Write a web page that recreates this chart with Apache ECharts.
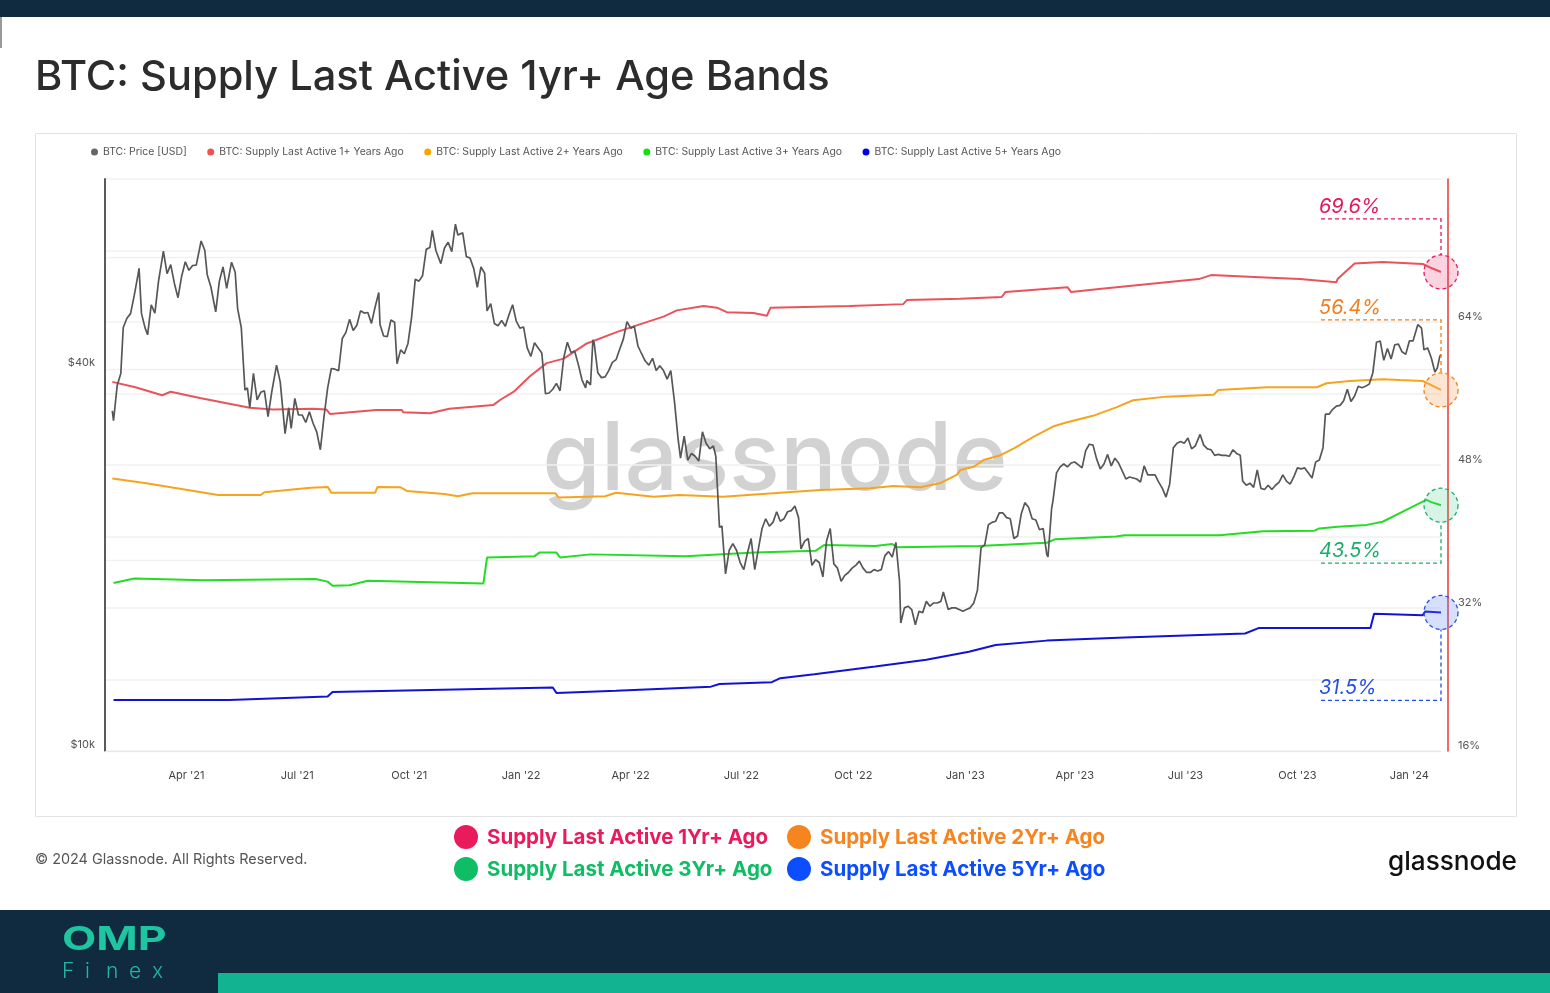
<!DOCTYPE html>
<html><head><meta charset="utf-8">
<script src="https://cdn.jsdelivr.net/npm/echarts@6/dist/echarts.min.js"></script>
<style>html,body{margin:0;padding:0;background:#fff;overflow:hidden}#c{width:1550px;height:993px}</style>
</head><body><div id="c"></div>
<script>
// ---------- DATA ----------
const seriesNames = ['BTC: Price [USD]','BTC: Supply Last Active 1+ Years Ago','BTC: Supply Last Active 2+ Years Ago','BTC: Supply Last Active 3+ Years Ago','BTC: Supply Last Active 5+ Years Ago'];
const bandNames = ['Supply Last Active 1Yr+ Ago','Supply Last Active 2Yr+ Ago','Supply Last Active 3Yr+ Ago','Supply Last Active 5Yr+ Ago'];
const endLabels = ['69.6%','56.4%','43.5%','31.5%'];
const priceTicks = [10000,20000,40000,60000];
const priceLabels = [10000,40000];

const priceData = [
['2021-01-30',34300],['2021-01-31',33100],['2021-02-03',37600],['2021-02-06',39300],['2021-02-08',46400],['2021-02-11',48000],['2021-02-14',48800],['2021-02-17',52100],['2021-02-20',56000],['2021-02-21',57500],['2021-02-23',48800],['2021-02-26',46300],['2021-02-28',45200],
['2021-03-03',50400],['2021-03-06',48900],['2021-03-09',54900],['2021-03-13',61200],['2021-03-16',56400],['2021-03-19',58300],['2021-03-22',54500],['2021-03-25',51700],['2021-03-28',55900],['2021-03-31',58900],
['2021-04-03',57100],['2021-04-06',58100],['2021-04-09',58200],['2021-04-13',63500],['2021-04-16',61400],['2021-04-18',56200],['2021-04-21',53800],['2021-04-25',49100],['2021-04-28',54900],
['2021-05-01',57800],['2021-05-04',53500],['2021-05-08',58800],['2021-05-11',56700],['2021-05-13',49700],['2021-05-16',46400],['2021-05-19',37000],['2021-05-21',37300],['2021-05-23',34700],['2021-05-26',39300],['2021-05-29',35700],
['2021-06-01',36700],['2021-06-04',36900],['2021-06-07',33600],['2021-06-10',36700],['2021-06-14',40500],['2021-06-17',38100],['2021-06-21',31600],['2021-06-24',34700],['2021-06-26',32200],['2021-06-29',35900],
['2021-07-02',33800],['2021-07-05',33800],['2021-07-08',32900],['2021-07-11',34200],['2021-07-14',32800],['2021-07-17',31800],['2021-07-20',29800],['2021-07-23',33600],['2021-07-26',37300],['2021-07-29',40000],
['2021-08-01',39900],['2021-08-04',39700],['2021-08-07',44600],['2021-08-10',45600],['2021-08-13',47800],['2021-08-16',45900],['2021-08-19',46800],['2021-08-22',49300],['2021-08-25',48900],['2021-08-28',49000],['2021-08-31',47100],
['2021-09-03',50000],['2021-09-06',52700],['2021-09-07',46900],['2021-09-10',45000],['2021-09-13',44900],['2021-09-16',47700],['2021-09-19',47300],['2021-09-21',40700],['2021-09-24',42800],['2021-09-27',42200],['2021-09-30',43800],
['2021-10-03',48200],['2021-10-06',55300],['2021-10-09',54900],['2021-10-12',56000],['2021-10-15',61600],['2021-10-18',62000],['2021-10-20',66000],['2021-10-23',61300],['2021-10-27',58500],['2021-10-30',61900],
['2021-11-02',63200],['2021-11-05',61100],['2021-11-08',67500],['2021-11-10',64900],['2021-11-14',65400],['2021-11-17',60000],['2021-11-20',59700],['2021-11-23',57500],['2021-11-26',53700],['2021-11-29',57800],
['2021-12-02',56500],['2021-12-04',49300],['2021-12-07',50600],['2021-12-10',47100],['2021-12-13',46700],['2021-12-16',47600],['2021-12-19',46600],['2021-12-22',48600],['2021-12-25',50400],['2021-12-28',47500],['2021-12-31',46300],
['2022-01-03',46500],['2022-01-06',43100],['2022-01-09',41800],['2022-01-12',43900],['2022-01-15',43100],['2022-01-18',42300],['2022-01-21',36500],['2022-01-24',36600],['2022-01-27',37100],['2022-01-30',37900],
['2022-02-02',36900],['2022-02-05',41600],['2022-02-08',44000],['2022-02-11',42400],['2022-02-14',42600],['2022-02-17',40600],['2022-02-20',38400],['2022-02-23',37300],['2022-02-24',38300],['2022-02-27',37700],
['2022-03-01',44400],['2022-03-02',43900],['2022-03-05',39400],['2022-03-08',38700],['2022-03-11',38800],['2022-03-14',39700],['2022-03-17',40900],['2022-03-20',41300],['2022-03-23',42900],['2022-03-26',44500],['2022-03-29',47400],
['2022-04-01',46300],['2022-04-04',46600],['2022-04-07',43400],['2022-04-10',42200],['2022-04-13',41100],['2022-04-16',40500],['2022-04-19',41500],['2022-04-22',39700],['2022-04-25',40400],['2022-04-28',39700],
['2022-05-01',38500],['2022-05-04',39700],['2022-05-07',35500],['2022-05-10',31000],['2022-05-12',28900],['2022-05-15',31300],['2022-05-18',28700],['2022-05-21',29400],['2022-05-24',29100],['2022-05-27',28600],['2022-05-30',31800],
['2022-06-02',30500],['2022-06-05',29900],['2022-06-08',30200],['2022-06-10',29100],['2022-06-13',22500],['2022-06-15',22600],['2022-06-18',19000],['2022-06-21',20700],['2022-06-24',21200],['2022-06-27',20700],['2022-06-30',19800],
['2022-07-03',19300],['2022-07-06',20500],['2022-07-09',21600],['2022-07-12',19300],['2022-07-15',20800],['2022-07-18',22400],['2022-07-21',23200],['2022-07-24',22600],['2022-07-27',22900],['2022-07-30',23800],
['2022-08-02',23000],['2022-08-05',23200],['2022-08-08',23800],['2022-08-11',23900],['2022-08-14',24300],['2022-08-17',23300],['2022-08-19',20800],['2022-08-22',21400],['2022-08-25',21600],['2022-08-28',19600],['2022-08-31',20000],
['2022-09-03',19800],['2022-09-06',18800],['2022-09-09',21400],['2022-09-12',22400],['2022-09-15',19700],['2022-09-18',19400],['2022-09-21',18500],['2022-09-24',18900],['2022-09-27',19100],['2022-09-30',19400],
['2022-10-03',19600],['2022-10-06',19900],['2022-10-09',19400],['2022-10-12',19100],['2022-10-15',19100],['2022-10-18',19300],['2022-10-21',19200],['2022-10-24',19300],['2022-10-27',20300],['2022-10-30',20600],
['2022-11-02',20200],['2022-11-05',21300],['2022-11-08',18500],['2022-11-09',15900],['2022-11-12',16800],['2022-11-15',16900],['2022-11-18',16700],['2022-11-21',15800],['2022-11-24',16600],['2022-11-27',16500],['2022-11-30',17200],
['2022-12-03',16900],['2022-12-06',17100],['2022-12-09',17100],['2022-12-12',17200],['2022-12-14',17800],['2022-12-18',16700],['2022-12-21',16800],['2022-12-24',16800],['2022-12-27',16700],['2022-12-30',16600],
['2023-01-02',16700],['2023-01-05',16800],['2023-01-08',17100],['2023-01-11',17900],['2023-01-14',20900],['2023-01-17',21100],['2023-01-20',22700],['2023-01-23',22900],['2023-01-26',23000],['2023-01-29',23700],
['2023-02-01',23700],['2023-02-04',23300],['2023-02-07',23200],['2023-02-10',21600],['2023-02-13',21800],['2023-02-16',23600],['2023-02-19',24600],['2023-02-22',24200],['2023-02-25',23200],['2023-02-28',23100],
['2023-03-03',22300],['2023-03-06',22400],['2023-03-09',20400],['2023-03-10',20200],['2023-03-13',24100],['2023-03-14',24700],['2023-03-17',27400],['2023-03-20',28000],['2023-03-23',28300],['2023-03-26',28000],['2023-03-29',28400],
['2023-04-01',28500],['2023-04-04',28200],['2023-04-07',27900],['2023-04-10',29700],['2023-04-13',30400],['2023-04-16',30300],['2023-04-19',28800],['2023-04-22',27800],['2023-04-25',28300],['2023-04-28',29300],
['2023-05-01',28100],['2023-05-04',28900],['2023-05-07',28400],['2023-05-10',27600],['2023-05-13',26800],['2023-05-16',27000],['2023-05-19',26900],['2023-05-22',26800],['2023-05-25',26500],['2023-05-28',28100],['2023-05-31',27200],
['2023-06-03',27200],['2023-06-06',27200],['2023-06-09',26500],['2023-06-12',25900],['2023-06-15',25100],['2023-06-18',26300],['2023-06-21',30000],['2023-06-24',30500],['2023-06-27',30700],['2023-06-30',30500],
['2023-07-03',31100],['2023-07-06',29900],['2023-07-09',30200],['2023-07-13',31500],['2023-07-16',30300],['2023-07-19',29900],['2023-07-22',29800],['2023-07-25',29200],['2023-07-28',29300],['2023-07-31',29200],
['2023-08-03',29200],['2023-08-06',29100],['2023-08-09',29800],['2023-08-12',29400],['2023-08-15',29200],['2023-08-17',26600],['2023-08-20',26200],['2023-08-23',26400],['2023-08-26',26000],['2023-08-29',27700],
['2023-09-01',25900],['2023-09-04',25800],['2023-09-07',26200],['2023-09-10',25800],['2023-09-13',26200],['2023-09-16',26500],['2023-09-19',27200],['2023-09-22',26600],['2023-09-25',26300],['2023-09-28',27000],
['2023-10-01',27900],['2023-10-04',27800],['2023-10-07',27900],['2023-10-10',27400],['2023-10-13',26900],['2023-10-16',28500],['2023-10-19',28700],['2023-10-22',30000],['2023-10-24',33900],['2023-10-27',33900],['2023-10-30',34500],
['2023-11-02',34900],['2023-11-05',35000],['2023-11-08',35600],['2023-11-11',37100],['2023-11-14',35500],['2023-11-17',36200],['2023-11-20',37500],['2023-11-23',37300],['2023-11-26',37500],['2023-11-29',37800],
['2023-12-02',39400],['2023-12-05',44000],['2023-12-08',44200],['2023-12-11',41200],['2023-12-14',43000],['2023-12-17',41400],['2023-12-20',43600],['2023-12-23',43700],['2023-12-26',42500],['2023-12-29',42100],
['2024-01-01',44200],['2024-01-04',44200],['2024-01-08',46900],['2024-01-11',46300],['2024-01-13',42800],['2024-01-16',43100],['2024-01-19',41600],['2024-01-22',39500],['2024-01-24',40100],['2024-01-26',41800],['2024-01-27',42100]
];

const supply1yr = [
['2021-01-30',57.3],['2021-02-18',56.7],['2021-03-12',55.8],['2021-03-19',56.2],['2021-04-12',55.5],['2021-05-04',54.9],['2021-05-23',54.4],['2021-06-11',54.2],['2021-07-14',54.3],['2021-07-25',54.2],['2021-07-28',53.7],
['2021-09-04',54.15],['2021-09-25',54.15],['2021-09-26',53.9],['2021-10-18',53.8],['2021-11-03',54.3],['2021-12-09',54.7],['2021-12-15',55.3],['2021-12-26',56.2],
['2022-01-08',57.9],['2022-01-22',59.4],['2022-02-05',59.9],['2022-02-24',61.6],['2022-03-21',62.9],['2022-04-11',63.85],['2022-04-28',64.6],['2022-05-09',65.3],['2022-05-31',65.8],['2022-06-11',65.6],['2022-06-19',65.1],
['2022-07-11',65.0],['2022-07-22',64.7],['2022-07-25',65.6],['2022-09-28',65.8],['2022-11-11',66.0],['2022-11-14',66.45],['2022-12-28',66.6],
['2023-01-31',66.8],['2023-02-03',67.35],['2023-03-26',67.9],['2023-03-29',67.35],['2023-04-21',67.7],['2023-06-01',68.25],['2023-07-12',68.8],['2023-07-22',69.25],['2023-08-31',69.0],['2023-10-03',68.8],['2023-11-02',68.45],
['2023-11-03',68.8],['2023-11-17',70.55],['2023-12-10',70.7],['2024-01-12',70.5],['2024-01-18',70.1],['2024-01-27',69.6]
];

const supply2yr = [
['2021-01-30',46.5],['2021-02-27',45.95],['2021-03-24',45.4],['2021-04-27',44.65],['2021-06-01',44.65],['2021-06-04',44.95],['2021-07-12',45.45],['2021-07-26',45.55],['2021-07-29',44.9],['2021-09-03',44.9],['2021-09-05',45.55],
['2021-09-24',45.5],['2021-09-29',45.1],['2021-10-30',44.75],['2021-11-10',44.5],['2021-11-22',44.85],['2022-01-29',44.85],['2022-02-01',44.35],['2022-03-11',44.5],['2022-03-20',44.9],['2022-04-20',44.45],
['2022-05-11',44.65],['2022-06-16',44.45],['2022-08-02',44.9],['2022-09-04',45.2],['2022-10-15',45.4],['2022-11-03',45.65],['2022-11-25',45.5],['2022-12-11',45.95],['2022-12-25',46.9],['2022-12-28',47.45],
['2023-01-08',47.8],['2023-01-16',48.55],['2023-01-30',49.1],['2023-02-10',49.85],['2023-02-26',51.15],['2023-03-14',52.3],['2023-03-25',52.75],['2023-04-16',53.5],['2023-05-05',54.45],['2023-05-19',55.25],
['2023-06-15',55.65],['2023-07-24',55.85],['2023-07-28',56.4],['2023-09-06',56.7],['2023-10-17',56.7],['2023-10-25',57.15],['2023-11-13',57.4],['2023-12-10',57.6],['2023-12-24',57.5],['2024-01-12',57.4],['2024-01-27',56.4]
];

const supply3yr = [
['2021-01-31',34.8],['2021-02-17',35.3],['2021-04-15',35.1],['2021-07-16',35.25],['2021-07-26',34.95],['2021-07-30',34.5],['2021-08-13',34.55],['2021-08-28',35.05],['2021-12-01',34.75],['2021-12-04',37.65],
['2022-01-12',37.8],['2022-01-16',38.2],['2022-01-30',38.2],['2022-02-02',37.65],['2022-02-27',38.0],['2022-05-16',37.8],['2022-07-12',38.2],['2022-08-31',38.4],['2022-09-07',39.05],['2022-10-19',38.95],['2022-11-02',39.15],['2022-11-06',38.8],
['2023-01-12',38.95],['2023-03-09',39.3],['2023-03-16',39.7],['2023-05-05',40.0],['2023-05-12',40.15],['2023-07-29',40.15],['2023-09-03',40.6],['2023-10-15',40.65],['2023-10-19',40.9],['2023-11-03',41.1],['2023-11-27',41.3],
['2023-12-10',41.65],['2023-12-27',42.8],['2024-01-12',43.9],['2024-01-15',44.1],['2024-01-19',43.85],['2024-01-27',43.5]
];

const supply5yr = [
['2021-01-31',21.7],['2021-05-06',21.7],['2021-07-26',22.1],['2021-07-30',22.6],['2022-01-27',23.1],['2022-01-30',22.5],['2022-03-20',22.75],['2022-06-06',23.2],['2022-06-13',23.5],['2022-07-26',23.7],
['2022-08-02',24.15],['2022-08-30',24.6],['2022-10-19',25.45],['2022-11-30',26.2],['2023-01-04',27.1],['2023-01-26',27.85],['2023-03-09',28.35],['2023-05-12',28.7],['2023-08-19',29.15],['2023-08-30',29.75],
['2023-11-30',29.75],['2023-12-03',31.35],['2024-01-12',31.2],['2024-01-14',31.6],['2024-01-27',31.5]
];

// ---------- STYLE ----------
const FONT = 'Inter, Roboto, "Noto Sans", sans-serif';
const lineColors = ['#575757','#e8545c','#f6a41f','#24dc24','#1212d4'];
const legendColors = ['#666666','#ef5350','#f7a600','#11e011','#0000ee'];
const annoColors = ['#e3195b','#f07f1c','#1aae6a','#2450e0'];
const annoFill = ['rgba(240,60,120,0.22)','rgba(250,170,110,0.30)','rgba(60,200,130,0.20)','rgba(90,130,250,0.25)'];
const bandColors = ['#e91b5d','#f6841f','#0fbd64','#0b4dff'];

const supplies = [supply1yr, supply2yr, supply3yr, supply5yr];
const chart = echarts.init(document.getElementById('c'));

const series = [{
  name: seriesNames[0], type:'line', yAxisIndex:0, data: priceData, showSymbol:false, symbol:'none',
  lineStyle:{color:lineColors[0], width:1.7}, itemStyle:{color:legendColors[0]}, z:4
}];
supplies.forEach((d,i)=>series.push({
  name: seriesNames[i+1], type:'line', yAxisIndex:1, data:d, showSymbol:false, symbol:'none',
  lineStyle:{color:lineColors[i+1], width:2}, itemStyle:{color:legendColors[i+1]}, z:3
}));

const mon = ['Jan','Feb','Mar','Apr','May','Jun','Jul','Aug','Sep','Oct','Nov','Dec'];
const DAY = 86400000;
chart.setOption({
  animation:false,
  backgroundColor:'#ffffff',
  grid:{left:105, right:109, top:179, bottom:242, containLabel:false},
  legend:{
    left:86, top:142, icon:'circle', itemWidth:7, itemHeight:7, itemGap:20.5,
    textStyle:{fontSize:10.4, color:'#555', fontFamily:FONT},
    data: seriesNames
  },
  xAxis:{
    type:'time', min:'2021-01-24', max:'2024-01-27', splitNumber:12, minInterval:80*DAY, maxInterval:100*DAY,
    axisLine:{show:true, lineStyle:{color:'#e8e8e8'}}, axisTick:{show:false}, splitLine:{show:false},
    axisLabel:{color:'#444', fontSize:11, fontFamily:FONT, margin:19, hideOverlap:false,
      formatter:function(v){const d=new Date(v);return mon[d.getMonth()]+" '"+String(d.getFullYear()).slice(2);}}
  },
  yAxis:[{
    type:'log', logBase:10, min:10000, max:79500, position:'left',
    axisLine:{show:true, lineStyle:{color:'#5a5a5a', width:2}},
    axisTick:{show:false}, axisLabel:{show:false}, splitLine:{show:false}
  },{
    type:'value', min:16, max:80, interval:8, position:'right', offset:7,
    axisLine:{show:true, lineStyle:{color:'#e53935', width:1.5}}, axisTick:{show:false},
    axisLabel:{color:'#555', fontSize:11, fontFamily:FONT, margin:10, verticalAlign:'bottom',
      formatter:v=>(v%16===0 && v<80)? v+'%' : ''},
    splitLine:{show:true, lineStyle:{color:'#f1f1f1', width:1.5}}
  }],
  series: series
});

// ---------- GRAPHICS ----------
function txt(x,y,text,font,fill,align,valign,extra){
  return Object.assign({type:'text', x:x, y:y, silent:true,
    style:{text:text, font:font, fill:fill, align:align||'left', verticalAlign:valign||'middle', textAlign:align||'left', textVerticalAlign:valign||'middle'}}, extra||{});
}
const g = [];
// price-axis grid lines and labels placed through the price (log) scale
const gl = chart.convertToPixel({xAxisIndex:0}, '2021-01-24');
const gr = chart.convertToPixel({xAxisIndex:0}, '2024-01-27');
priceTicks.forEach(v=>{
  const y = Math.round(chart.convertToPixel({yAxisIndex:0}, v))+0.5;
  g.push({type:'line', shape:{x1:gl, y1:y, x2:gr, y2:y}, style:{stroke:'#f1f1f1', lineWidth:1.5}, silent:true, z:-1});
  if (priceLabels.indexOf(v)>=0) g.push(txt(gl-10, y-1, '$'+Math.round(v/1000)+'k', '11px '+FONT, '#555', 'right','bottom'));
});
g.push({type:'rect', shape:{x:0,y:0,width:1550,height:17}, style:{fill:'#102a40'}, silent:true});
g.push({type:'rect', shape:{x:0,y:17,width:2,height:31}, style:{fill:'#9a9a9a'}, silent:true});
g.push(txt(35,77,'BTC: Supply Last Active 1yr+ Age Bands','500 41.6px '+FONT,'#2c2c2c','left','middle'));
g.push({type:'rect', shape:{x:35.5,y:133.5,width:1481,height:683}, style:{fill:'none', stroke:'#e2e2e2', lineWidth:1}, silent:true, z:-1});
g.push(txt(775,462,'glassnode','500 94.5px '+FONT,'#d2d2d2','center','middle',{z:-1}));

const bandPos = [[466,837],[799,837],[466,869],[799,869]];
bandNames.forEach((n,i)=>{
  g.push({type:'circle', shape:{cx:bandPos[i][0], cy:bandPos[i][1], r:12}, style:{fill:bandColors[i]}, silent:true});
  g.push(txt(bandPos[i][0]+21, bandPos[i][1]+1, n, 'bold 20.5px '+FONT, bandColors[i], 'left','middle'));
});
g.push(txt(35,860,'\u00a9 2024 Glassnode. All Rights Reserved.','14.4px '+FONT,'#555','left','middle'));
g.push(txt(1517,862,'glassnode','500 26.2px '+FONT,'#111','right','middle'));

g.push({type:'rect', shape:{x:0,y:910,width:1550,height:83}, style:{fill:'#102a40'}, silent:true});
g.push({type:'rect', shape:{x:218,y:973,width:1332,height:20}, style:{fill:'#12b391'}, silent:true});
g.push(txt(62,940,'OMP','bold 33px '+FONT,'#1fc4a0','left','middle',{scaleX:1.35, originX:0}));
const fin = ['F','i','n','e','x'], finX=[62,85,106,129,152];
fin.forEach((c,i)=>g.push(txt(finX[i],972,c,'300 21px '+FONT,'#22b8a0','left','middle')));

const annoOffset = [-53,-70,58,88];
supplies.forEach((d,i)=>{
  const last = d[d.length-1];
  const p = chart.convertToPixel({xAxisIndex:0, yAxisIndex:1}, last);
  const cx = p[0], cy = p[1], r = 17;
  const ly = cy + annoOffset[i];
  const lx0 = cx - 120;
  g.push({type:'circle', shape:{cx:cx, cy:cy, r:r}, style:{fill:annoFill[i], stroke:annoColors[i], lineWidth:1.3, lineDash:[4,3]}, silent:true, z:5});
  g.push({type:'polyline', shape:{points:[[lx0,ly],[cx,ly],[cx, ly<cy ? cy-r : cy+r]]}, style:{fill:'none', stroke:annoColors[i], lineWidth:1.3, lineDash:[4,3]}, silent:true, z:5});
  g.push(txt(lx0-2, ly-2, endLabels[i], 'italic 20px '+FONT, annoColors[i], 'left','bottom',{z:5}));
});
chart.setOption({graphic:{elements:g}});
</script></body></html>
